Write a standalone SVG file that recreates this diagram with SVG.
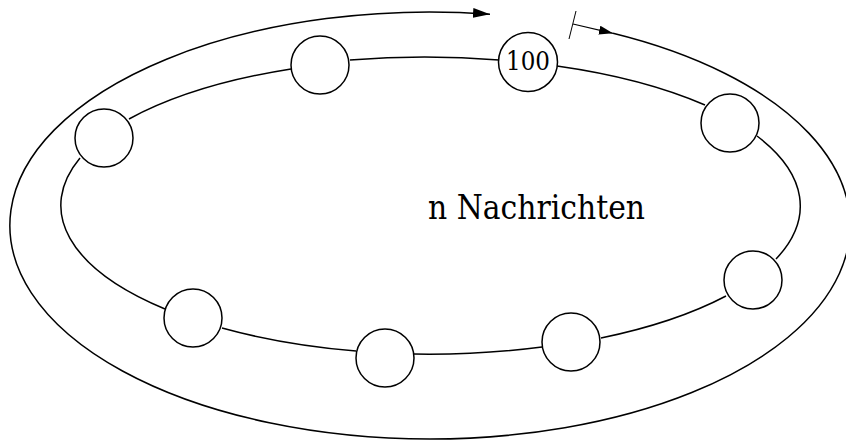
<svg xmlns="http://www.w3.org/2000/svg" width="846" height="441" viewBox="0 0 846 441">
  <style>
    .line { fill: none; stroke: #000; stroke-width: 1.5; }
    .node circle { fill: #fff; stroke: #000; stroke-width: 1.5; }
    .label { font-family: "DejaVu Serif", serif; fill: #000; }
  </style>
  <defs>
    <marker id="arrowBig" markerUnits="userSpaceOnUse" viewBox="0 0 17 10" refX="17" refY="5" markerWidth="17" markerHeight="10" orient="auto">
      <path d="M0,0 L17,5 L0,10 z" fill="#000"/>
    </marker>
    <marker id="arrowSmall" markerUnits="userSpaceOnUse" viewBox="0 0 14 9" refX="14" refY="4.5" markerWidth="14" markerHeight="9" orient="auto">
      <path d="M0,0 L14,4.5 L0,9 z" fill="#000"/>
    </marker>
  </defs>
  <rect width="846" height="441" fill="#fff"/>

  <g id="connectors">
    <!-- outer circulation loop -->
    <path class="line" marker-end="url(#arrowBig)" d="M613,33.3 A420,213.5 0 0 1 430,439 A420,213.5 0 1 1 490,14.2"/>
    <line class="line" x1="576" y1="11" x2="569" y2="39" style="stroke-width:1"/>
    <line class="line" x1="573" y1="24" x2="613" y2="33.3" marker-end="url(#arrowSmall)" style="stroke-width:1.2"/>
    <!-- inner ring segments -->
    <path class="line" d="M129,119 A370,149 0 0 1 291,69"/>
    <path class="line" d="M350,60 A370,149 0 0 1 499,60"/>
    <path class="line" d="M557,66 A370,149 0 0 1 705,105"/>
    <path class="line" d="M757,136 A370,149 0 0 1 776,259"/>
    <path class="line" d="M726,296 A370,149 0 0 1 601,338"/>
    <path class="line" d="M542,347 A370,149 0 0 1 414,354"/>
    <path class="line" d="M356,351 A370,149 0 0 1 222,328"/>
    <path class="line" d="M165,309 A370,149 0 0 1 80,158"/>
  </g>

  <g id="node-a" class="node"><circle cx="104" cy="138" r="29"/></g>
  <g id="node-b" class="node"><circle cx="320" cy="65" r="29"/></g>
  <g id="node-100" class="node">
    <circle cx="528" cy="62" r="29.5"/>
    <text class="label" x="506" y="70" font-size="26" textLength="44" lengthAdjust="spacingAndGlyphs">100</text>
  </g>
  <g id="node-d" class="node"><circle cx="730" cy="123" r="29"/></g>
  <g id="node-e" class="node"><circle cx="753" cy="280" r="29"/></g>
  <g id="node-f" class="node"><circle cx="571" cy="342" r="29"/></g>
  <g id="node-g" class="node"><circle cx="385" cy="358" r="29"/></g>
  <g id="node-h" class="node"><circle cx="193" cy="318" r="29"/></g>

  <g id="title">
    <text class="label" x="428" y="219" font-size="34" textLength="217" lengthAdjust="spacingAndGlyphs">n Nachrichten</text>
  </g>
</svg>
